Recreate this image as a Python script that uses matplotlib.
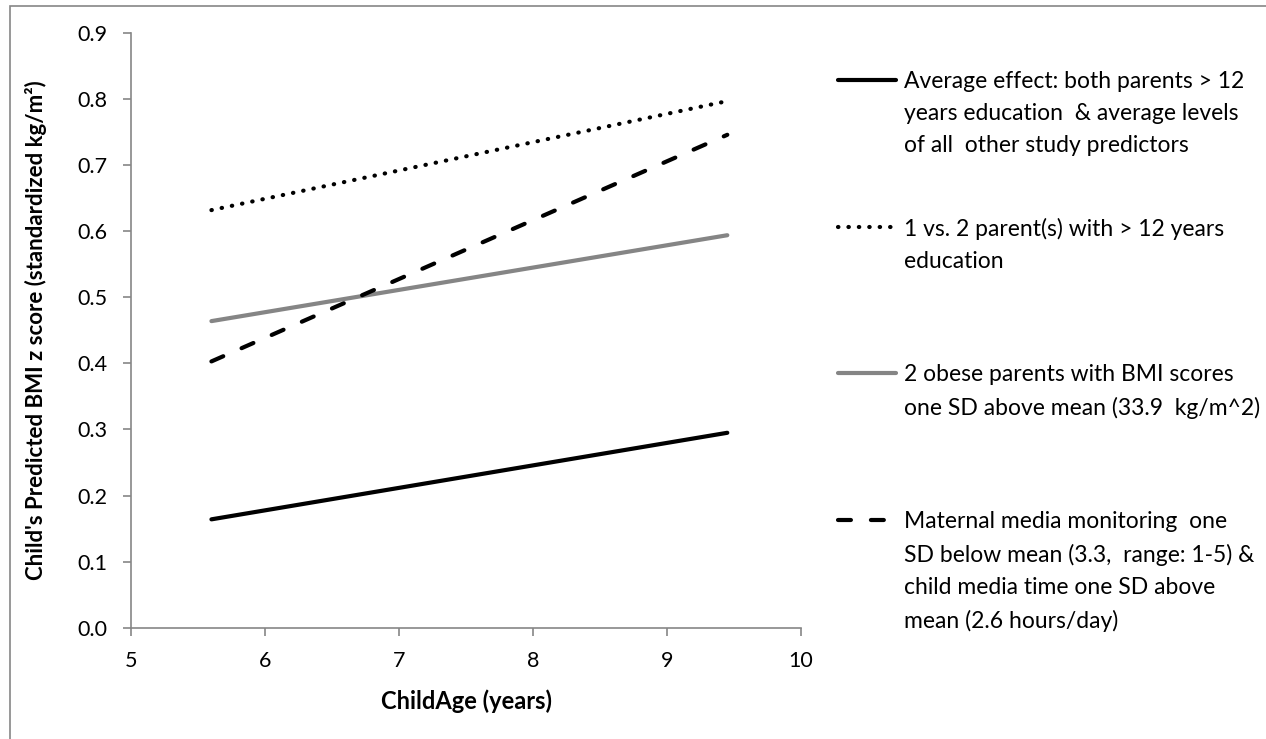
import matplotlib
matplotlib.use("Agg")
import matplotlib.pyplot as plt
from matplotlib.lines import Line2D
from matplotlib.patches import Rectangle

plt.rcParams['font.family'] = ['Lato', 'DejaVu Sans']

# ====================== DATA ======================
child_age = [5.6, 9.45]
avg_effect = [0.164, 0.295]
one_vs_two_parents = [0.632, 0.797]
obese_parents = [0.464, 0.594]
media_monitoring = [0.403, 0.746]

series_labels = [
    "Average effect: both parents > 12\nyears education  & average levels\nof all  other study predictors",
    "1 vs. 2 parent(s) with > 12 years\neducation",
    "2 obese parents with BMI scores\none SD above mean (33.9  kg/m^2)",
    "Maternal media monitoring  one\nSD below mean (3.3,  range: 1-5) &\nchild media time one SD above\nmean (2.6 hours/day)",
]
x_ticks = [5, 6, 7, 8, 9, 10]
y_ticks = [0.0, 0.1, 0.2, 0.3, 0.4, 0.5, 0.6, 0.7, 0.8, 0.9]

# ====================== STYLES ======================
styles = [
    dict(color="black", lw=3.0, ls="-", solid_capstyle="round"),
    dict(color="black", lw=3.0, ls=(0, (0.1, 2.4)), dash_capstyle="round"),
    dict(color="#858585", lw=3.0, ls="-", solid_capstyle="round"),
    dict(color="black", lw=3.0, ls=(0, (3.1, 4.8)), dash_capstyle="round"),
]
series = [avg_effect, one_vs_two_parents, obese_parents, media_monitoring]

fig = plt.figure(figsize=(12.66, 7.39), dpi=100)
ax = fig.add_axes([0.1035, 0.1506, 0.5292, 0.8047])

for vals, st in zip(series, styles):
    ax.plot(child_age, vals, **st)

ax.set_xlim(5, 10)
ax.set_ylim(0, 0.9)
ax.set_xticks(x_ticks)
ax.set_yticks(y_ticks)
ax.set_yticklabels([f"{v:.1f}" for v in y_ticks])

axis_gray = "#868686"
for side in ["top", "right"]:
    ax.spines[side].set_visible(False)
for side in ["left", "bottom"]:
    ax.spines[side].set_color(axis_gray)
    ax.spines[side].set_linewidth(1.2)
ax.tick_params(axis="both", direction="out", length=6, width=1.2,
               color=axis_gray, labelsize=15.5, labelcolor="black", pad=11)

ax.set_xlabel("ChildAge (years)", fontsize=17, fontweight="bold", labelpad=13)
ax.set_ylabel("Child's Predicted BMI z score (standardized kg/m\u00b2)",
              fontsize=16, fontweight="bold", labelpad=22)

# ====================== LEGEND (manual, first-line aligned) ======================
W, H = 1266, 739
entry_y = [80, 227, 373, 520]
for lab, st, y in zip(series_labels, styles, entry_y):
    yf = 1 - y / H
    fig.add_artist(Line2D([838 / W, 896 / W], [yf, yf], transform=fig.transFigure, **st))
    fig.text(904 / W, 1 - (y - 9) / H, lab, fontsize=16.5, va="top", ha="left",
             linespacing=1.66)

# outer chart frame
fig.add_artist(Rectangle((10 / W, -0.05), 1.2, 1 - 6 / H + 0.05, transform=fig.transFigure,
                         fill=False, edgecolor=axis_gray, lw=1.2))

fig.savefig("out.png", dpi=100)
